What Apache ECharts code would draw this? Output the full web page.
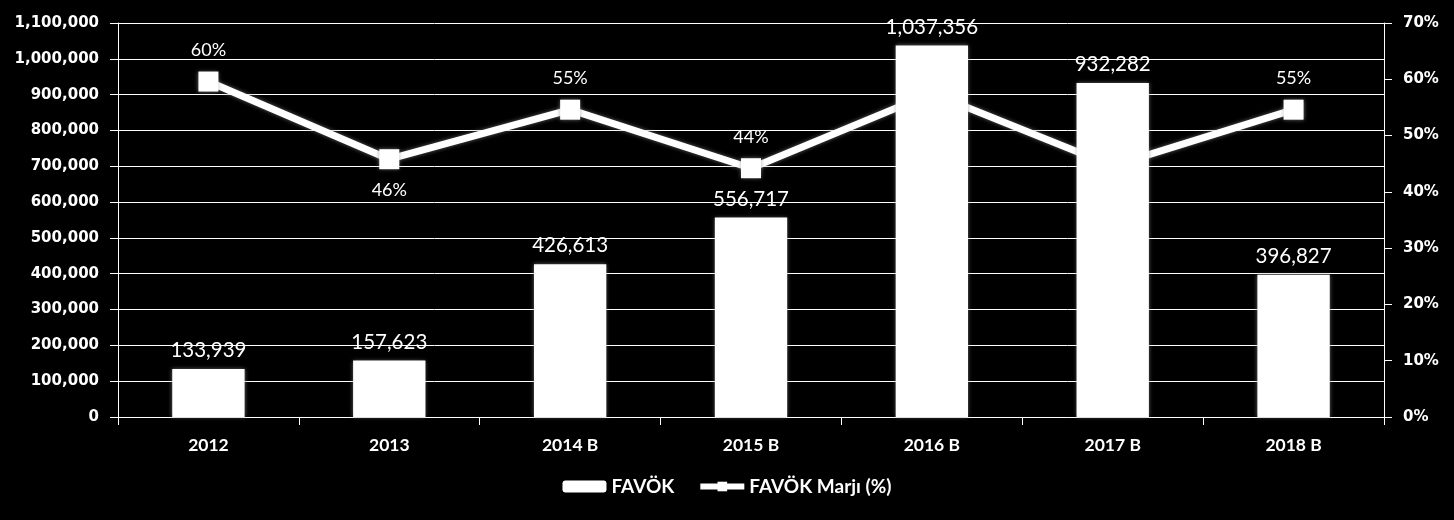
<!DOCTYPE html>
<html>
<head>
<meta charset="utf-8">
<script src="https://cdn.jsdelivr.net/npm/echarts@6/dist/echarts.min.js"></script>
<style>
html,body{margin:0;padding:0;background:#000;}
#c{width:1454px;height:520px;}
</style>
</head>
<body>
<div id="c"></div>
<script>
var categories = ['2012', '2013', '2014 B', '2015 B', '2016 B', '2017 B', '2018 B'];
var favok = [133939, 157623, 426613, 556717, 1037356, 932282, 396827];
var marj = [59.6, 45.8, 54.6, 44.2, 57.5, 44.6, 54.6];
var marjLabelPos = ['top', 'bottom', 'top', 'top', 'top', 'bottom', 'top'];

var FONT = 'Lato';
var YFONT = 'DejaVu Sans';
var shadow = 'rgba(140,140,140,0.7)';
var chart = echarts.init(document.getElementById('c'));
chart.setOption({
  backgroundColor: '#000',
  animation: false,
  textStyle: { fontFamily: FONT, color: '#fff' },
  grid: { left: 118, right: 70, top: 23, bottom: 103, containLabel: false },
  legend: {
    bottom: 19,
    left: 'center',
    itemWidth: 44,
    itemHeight: 12,
    itemGap: 23,
    data: ['FAVÖK', 'FAVÖK Marjı (%)'],
    lineStyle: { width: 6, color: '#fff' },
    textStyle: { color: '#fff', fontFamily: FONT, fontWeight: 'bold', fontSize: 19 }
  },
  xAxis: {
    type: 'category',
    data: categories,
    axisLine: { show: true, lineStyle: { color: '#fff', width: 1 } },
    axisTick: { show: true, alignWithLabel: false, length: 8, lineStyle: { color: '#fff' } },
    axisLabel: { color: '#fff', fontFamily: FONT, fontWeight: 'bold', fontSize: 17.5, margin: 19 }
  },
  yAxis: [{
    type: 'value',
    min: 0, max: 1100000, interval: 100000,
    axisLine: { show: true, lineStyle: { color: '#fff', width: 1 } },
    axisTick: { show: true, length: 8, lineStyle: { color: '#fff' } },
    splitLine: { show: true, lineStyle: { color: '#fff', width: 1 } },
    axisLabel: {
      color: '#fff', fontFamily: YFONT, fontWeight: 'bold', fontSize: 15, margin: 19,
      formatter: function (v) { return v.toLocaleString('en-US'); }
    }
  }, {
    type: 'value',
    min: 0, max: 70, interval: 10,
    axisLine: { show: true, lineStyle: { color: '#fff', width: 1 } },
    axisTick: { show: true, length: 8, lineStyle: { color: '#fff' } },
    splitLine: { show: false },
    axisLabel: {
      color: '#fff', fontFamily: YFONT, fontWeight: 'bold', fontSize: 15, margin: 19,
      formatter: '{value}%'
    }
  }],
  series: [{
    name: 'FAVÖK',
    type: 'bar',
    z: 5,
    yAxisIndex: 0,
    data: favok,
    barWidth: '40%',
    itemStyle: { color: '#fff', shadowBlur: 4, shadowColor: shadow },
    label: {
      show: true, position: 'top', distance: 8, color: '#fff', fontFamily: FONT, fontSize: 20.5,
      formatter: function (p) { return p.value.toLocaleString('en-US'); }
    }
  }, {
    name: 'FAVÖK Marjı (%)',
    type: 'line',
    z: 2,
    yAxisIndex: 1,
    data: marj.map(function (v, i) {
      return { value: v, label: { position: marjLabelPos[i] } };
    }),
    symbol: 'rect',
    symbolSize: 20,
    lineStyle: { color: '#fff', width: 7, shadowBlur: 4, shadowColor: shadow },
    itemStyle: { color: '#fff', shadowBlur: 4, shadowColor: shadow },
    label: {
      show: true, distance: 12, color: '#fff', fontFamily: FONT, fontSize: 18,
      formatter: function (p) { return Math.round(p.value) + '%'; }
    }
  }]
});
</script>
</body>
</html>
